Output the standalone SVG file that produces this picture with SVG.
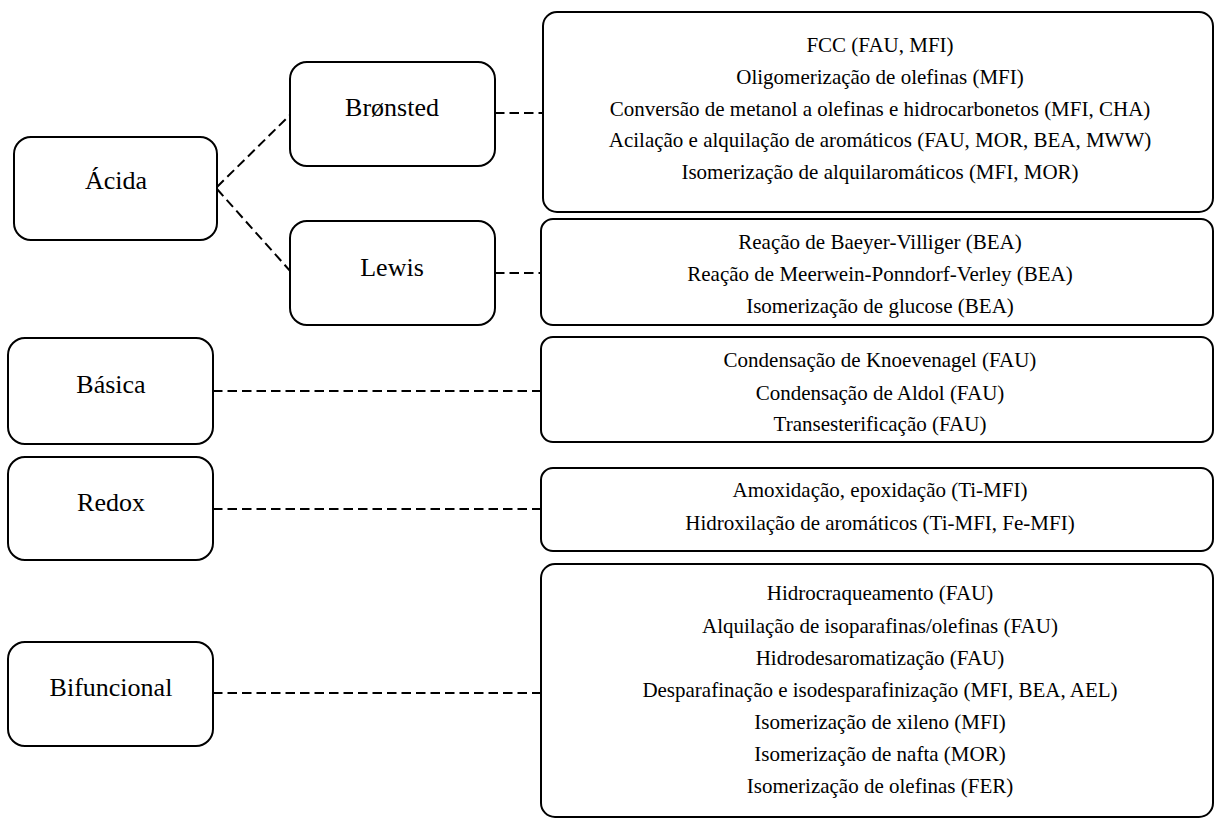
<svg xmlns="http://www.w3.org/2000/svg" width="1216" height="819" viewBox="0 0 1216 819">
  <style>
    .box { fill: #ffffff; stroke: #000000; stroke-width: 2; }
    .link { fill: none; stroke: #000000; stroke-width: 2; stroke-dasharray: 9.5 5; }
    .lbl { font-family: "Liberation Serif", "Times New Roman", serif; font-size: 26px; text-anchor: middle; fill: #000000; }
    .item { font-family: "Liberation Serif", "Times New Roman", serif; font-size: 21px; text-anchor: middle; fill: #000000; }
  </style>

  <!-- dashed connectors -->
  <g id="connectors">
    <line class="link" x1="217" y1="187" x2="291" y2="114"/>
    <line class="link" x1="217" y1="189" x2="291" y2="272"/>
    <line class="link" x1="495" y1="113" x2="544" y2="113"/>
    <line class="link" x1="495" y1="273" x2="541" y2="273"/>
    <line class="link" x1="213" y1="391" x2="541" y2="391"/>
    <line class="link" x1="213" y1="509" x2="541" y2="509"/>
    <line class="link" x1="213" y1="693" x2="541" y2="693"/>
  </g>

  <!-- catalyst types -->
  <g id="acida">
    <rect class="box" x="14" y="137" width="203" height="103" rx="17"/>
    <text class="lbl" x="116" y="189">Ácida</text>
  </g>
  <g id="bronsted">
    <rect class="box" x="290" y="62" width="205" height="104" rx="17"/>
    <text class="lbl" x="392" y="116">Brønsted</text>
  </g>
  <g id="lewis">
    <rect class="box" x="290" y="221" width="205" height="104" rx="17"/>
    <text class="lbl" x="392" y="276">Lewis</text>
  </g>
  <g id="basica">
    <rect class="box" x="8" y="338" width="205" height="106" rx="17"/>
    <text class="lbl" x="111" y="393">Básica</text>
  </g>
  <g id="redox">
    <rect class="box" x="8" y="457" width="205" height="103" rx="17"/>
    <text class="lbl" x="111" y="511">Redox</text>
  </g>
  <g id="bifuncional">
    <rect class="box" x="8" y="642" width="205" height="104" rx="17"/>
    <text class="lbl" x="111" y="696">Bifuncional</text>
  </g>

  <!-- applications -->
  <g id="app-bronsted">
    <rect class="box" x="543" y="12" width="670" height="200" rx="14"/>
    <text class="item" x="880" y="52">FCC (FAU, MFI)</text>
    <text class="item" x="880" y="84">Oligomerização de olefinas (MFI)</text>
    <text class="item" x="880" y="116">Conversão de metanol a olefinas e hidrocarbonetos (MFI, CHA)</text>
    <text class="item" x="880" y="147">Acilação e alquilação de aromáticos (FAU, MOR, BEA, MWW)</text>
    <text class="item" x="880" y="179">Isomerização de alquilaromáticos (MFI, MOR)</text>
  </g>
  <g id="app-lewis">
    <rect class="box" x="541" y="219" width="672" height="106" rx="12"/>
    <text class="item" x="880" y="249">Reação de Baeyer-Villiger (BEA)</text>
    <text class="item" x="880" y="281">Reação de Meerwein-Ponndorf-Verley (BEA)</text>
    <text class="item" x="880" y="313">Isomerização de glucose (BEA)</text>
  </g>
  <g id="app-basica">
    <rect class="box" x="541" y="337" width="672" height="105" rx="12"/>
    <text class="item" x="880" y="367">Condensação de Knoevenagel (FAU)</text>
    <text class="item" x="880" y="400">Condensação de Aldol (FAU)</text>
    <text class="item" x="880" y="431">Transesterificação (FAU)</text>
  </g>
  <g id="app-redox">
    <rect class="box" x="541" y="468" width="672" height="83" rx="12"/>
    <text class="item" x="880" y="497">Amoxidação, epoxidação (Ti-MFI)</text>
    <text class="item" x="880" y="530">Hidroxilação de aromáticos (Ti-MFI, Fe-MFI)</text>
  </g>
  <g id="app-bifuncional">
    <rect class="box" x="541" y="564" width="672" height="253" rx="14"/>
    <text class="item" x="880" y="600">Hidrocraqueamento (FAU)</text>
    <text class="item" x="880" y="633">Alquilação de isoparafinas/olefinas (FAU)</text>
    <text class="item" x="880" y="665">Hidrodesaromatização (FAU)</text>
    <text class="item" x="880" y="697">Desparafinação e isodesparafinização (MFI, BEA, AEL)</text>
    <text class="item" x="880" y="729">Isomerização de xileno (MFI)</text>
    <text class="item" x="880" y="761">Isomerização de nafta (MOR)</text>
    <text class="item" x="880" y="793">Isomerização de olefinas (FER)</text>
  </g>
</svg>
